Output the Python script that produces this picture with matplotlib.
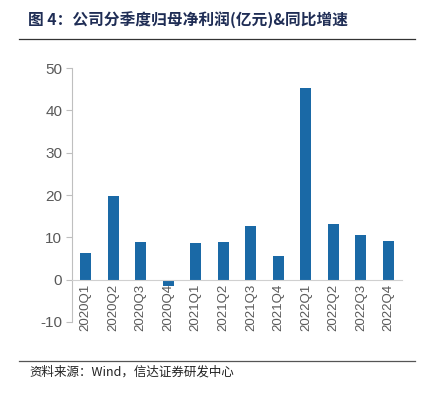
import matplotlib
matplotlib.use('Agg')
import matplotlib.pyplot as plt

quarters = ['2020Q1', '2020Q2', '2020Q3', '2020Q4', '2021Q1', '2021Q2',
            '2021Q3', '2021Q4', '2022Q1', '2022Q2', '2022Q3', '2022Q4']
profit = [6.4, 19.8, 8.9, -1.6, 8.6, 8.9, 12.7, 5.7, 45.3, 13.2, 10.5, 9.1]
yticks = [-10, 0, 10, 20, 30, 40, 50]

title = '图 4：公司分季度归母净利润(亿元)&同比增速'
source = '资料来源：Wind，信达证券研发中心'

cjk = ['Noto Sans CJK SC', 'DejaVu Sans']
grey = '#595959'

fig = plt.figure(figsize=(4.26, 3.94), dpi=100)
ax = fig.add_axes([0.169, 0.183, 0.775, 0.644])

ax.bar(range(len(quarters)), profit, width=0.4, color='#1a69a6')
ax.set_xlim(-0.5, len(quarters) - 0.5)
ax.set_ylim(-10, 50)
ax.set_yticks(yticks)
ax.set_yticklabels([str(v) for v in yticks], fontsize=11, color=grey,
                   family='Liberation Sans')
ax.tick_params(axis='y', length=4, color='#bfbfbf', pad=3)

ax.spines['top'].set_visible(False)
ax.spines['right'].set_visible(False)
ax.spines['left'].set_color('#bfbfbf')
ax.spines['bottom'].set_position(('data', 0))
ax.spines['bottom'].set_color('#d0d0d0')
ax.set_xticks(range(len(quarters)))
ax.set_xticklabels(quarters, rotation=90, fontsize=9.5, color=grey,
                   family='Liberation Sans', va='top')
ax.tick_params(axis='x', length=0, pad=3)

# title, rules and source note
fig.text(0.066, 0.948, title, fontsize=11.3, fontweight='bold',
         color='#1f2d55', family=cjk, va='center')
fig.add_artist(plt.Line2D([0.045, 0.975], [0.901, 0.901], color='#333333', lw=0.9))
fig.add_artist(plt.Line2D([0.045, 0.975], [0.084, 0.084], color='#555555', lw=0.9))
fig.text(0.07, 0.056, source, fontsize=9, color='#222222', family=cjk,
         va='center')

plt.savefig('out.png', dpi=100)
